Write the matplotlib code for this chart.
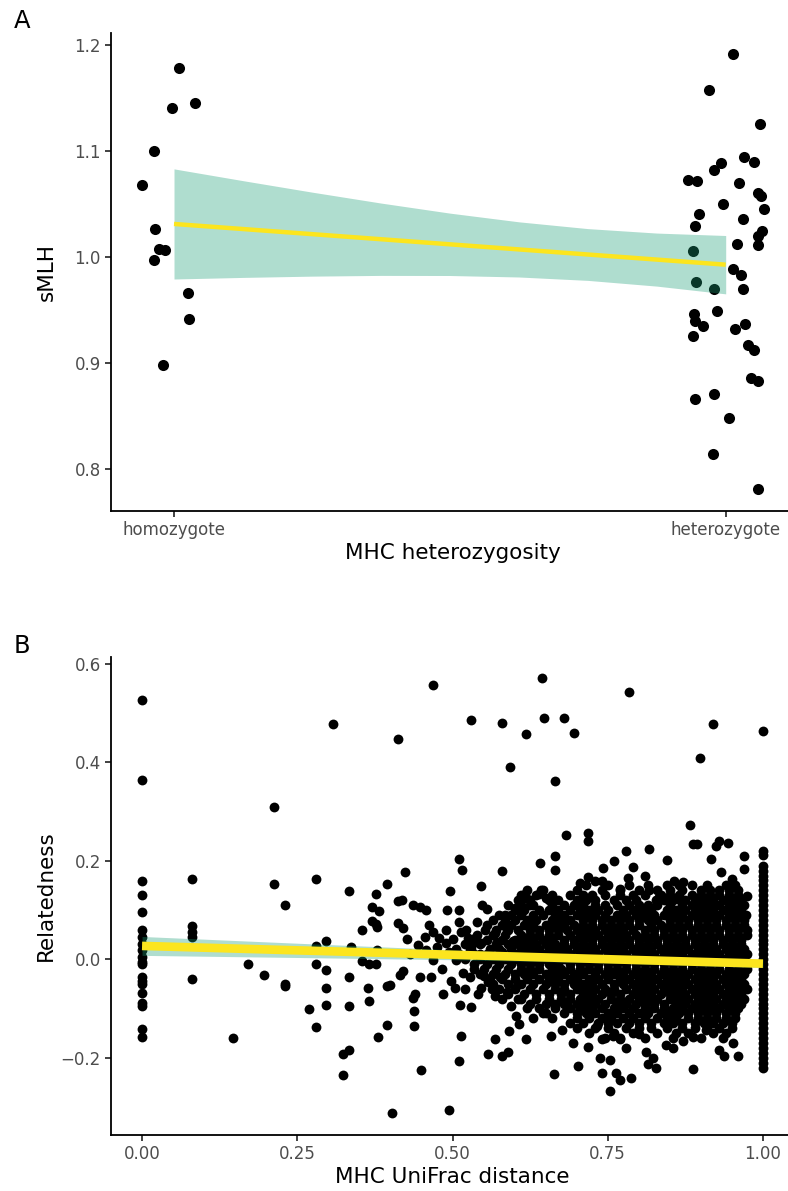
import numpy as np
import matplotlib
matplotlib.use('Agg')
import matplotlib.pyplot as plt

plt.rcParams['font.family'] = ['DejaVu Sans']

# ---------------- Panel A data: sMLH vs MHC heterozygosity (0 = homozygote, 1 = heterozygote, jittered)
homo_x = [0.009, -0.003, 0.0375, -0.036, -0.058, -0.034, -0.028, -0.016, -0.036, 0.026, 0.028, -0.020]
homo_y = [1.1785, 1.1407, 1.1451, 1.1003, 1.0684, 1.027, 1.0078, 1.0064, 0.9977, 0.966, 0.942, 0.8983]
het_x = [1.0127, 0.9703, 1.0622, 1.0337, 1.0513, 0.992, 0.9788, 0.9311, 0.9474, 1.0236,
         1.058, 1.0634, 0.9951, 1.0694, 0.9516, 1.0308, 0.9449, 1.0663, 1.058, 1.0205,
         1.058, 0.9402, 1.0127, 1.0283, 0.9467, 0.9793, 1.0308, 0.9848, 0.9425, 0.9438,
         0.9594, 1.0355, 1.0169, 0.9413, 1.0399, 1.0513, 1.0453, 1.0591, 0.9444, 0.9782,
         1.0054, 0.9775, 1.0591]
het_y = [1.1912, 1.1573, 1.1256, 1.0942, 1.0899, 1.0889, 1.0821, 1.0724, 1.0717, 1.0697,
         1.0606, 1.0579, 1.0498, 1.0458, 1.0404, 1.0364, 1.0293, 1.0242, 1.0195, 1.0128,
         1.0118, 1.0054, 0.9892, 0.9831, 0.9764, 0.9704, 0.9697, 0.9495, 0.9461, 0.9397,
         0.9354, 0.9367, 0.9320, 0.9260, 0.9172, 0.9125, 0.8862, 0.8828, 0.8667, 0.8714,
         0.8485, 0.8141, 0.7818]
a_tick_labels = ['homozygote', 'heterozygote']
a_fit = [1.0313, 0.9929]
a_band_x = [0, 0.125, 0.25, 0.375, 0.5, 0.625, 0.75, 0.875, 1.0]
a_band_hw = [0.0519, 0.0456, 0.0396, 0.0341, 0.0294, 0.0260, 0.0244, 0.0250, 0.0275]

# ---------------- Panel B data: Relatedness vs MHC UniFrac distance
col0_y = [0.526, 0.364, 0.159, 0.130, 0.096, 0.060, 0.046, 0.031, 0.018, 0.005,
          -0.005, -0.009, -0.036, -0.044, -0.051, -0.069, -0.089, -0.095, -0.141, -0.158]
col008_y = [0.163, 0.0675, 0.056, 0.046, -0.041]
col1_y = [0.219, 0.211, 0.19, 0.18, 0.17, 0.16, 0.15, 0.14, 0.13, 0.12, 0.11, 0.10, 0.09, 0.08,
          0.07, 0.06, 0.05, 0.04, 0.03, 0.02, 0.01, 0.0, -0.01, -0.02, -0.03, -0.04, -0.05,
          -0.06, -0.07, -0.08, -0.09, -0.10, -0.11, -0.12, -0.13, -0.14, -0.15, -0.16, -0.17,
          -0.18, -0.19, -0.20, -0.21, -0.22]

out_x = [0.469, 0.644, 0.784, 0.529, 0.580, 0.647, 0.680, 0.695, 0.619, 0.920, 1.0, 0.592,
         0.665, 0.898, 0.307, 0.413, 0.212, 0.403, 0.494]
out_y = [0.556, 0.571, 0.543, 0.486, 0.480, 0.489, 0.490, 0.460, 0.457, 0.478, 0.464, 0.390,
         0.361, 0.409, 0.478, 0.448, 0.309, -0.313, -0.307]

left_x = [0.147, 0.171, 0.197, 0.212, 0.231, 0.231, 0.231, 0.269, 0.280, 0.280, 0.280, 0.280,
          0.296, 0.296, 0.296, 0.296, 0.324, 0.324, 0.334, 0.334, 0.334, 0.334, 0.336, 0.355,
          0.355, 0.364, 0.366, 0.370, 0.370, 0.376, 0.376, 0.378, 0.366, 0.377, 0.378, 0.381,
          0.380, 0.395, 0.395, 0.395, 0.400, 0.413, 0.412, 0.415]
left_y = [-0.160, -0.009, -0.032, 0.152, 0.111, -0.050, -0.055, -0.101, 0.163, 0.027, -0.009, -0.137,
          0.037, -0.021, -0.059, -0.093, -0.193, -0.236, 0.139, -0.036, -0.096, -0.184, 0.024, 0.060,
          -0.004, -0.059, -0.084, 0.077, 0.106, 0.132, 0.072, 0.066, -0.009, -0.009, 0.019, 0.098,
          -0.157, 0.152, -0.134, -0.055, -0.052, 0.118, 0.073, -0.033]

upper_x = [0.883, 0.682, 0.719, 0.719, 0.888, 0.893, 0.930, 0.944, 0.925, 0.779, 0.816, 0.969,
           0.665, 0.511, 0.641, 0.760, 0.845, 0.917, 0.742, 0.791, 0.515, 0.580, 0.665, 0.969,
           0.424, 0.932, 0.810, 0.718, 0.729, 0.740, 0.782, 0.856, 0.872, 0.950, 0.546, 0.496,
           0.705, 0.770, 0.816, 0.975, 0.616, 0.618, 0.642, 0.640, 0.418, 0.547, 0.556, 0.437,
           0.448, 0.458, 0.491, 0.511, 0.833, 0.828, 0.863]
upper_y = [0.272, 0.253, 0.257, 0.240, 0.234, 0.234, 0.240, 0.236, 0.230, 0.219, 0.223, 0.210,
           0.209, 0.204, 0.196, 0.200, 0.201, 0.204, 0.186, 0.188, 0.181, 0.180, 0.181, 0.183,
           0.177, 0.177, 0.168, 0.167, 0.159, 0.159, 0.165, 0.159, 0.157, 0.162, 0.148, 0.139,
           0.154, 0.142, 0.140, 0.129, 0.132, 0.125, 0.140, 0.133, 0.121, 0.110, 0.102, 0.110,
           0.106, 0.099, 0.099, 0.100, 0.127, 0.121, 0.123]

mid_x = [0.420, 0.426, 0.469, 0.479, 0.490, 0.501, 0.514, 0.525, 0.536, 0.546, 0.568, 0.587, 0.597,
         0.431, 0.445, 0.458, 0.469, 0.495, 0.506, 0.528, 0.544, 0.560, 0.579, 0.592,
         0.420, 0.439, 0.447, 0.466, 0.485, 0.504, 0.512, 0.517, 0.528, 0.530, 0.541, 0.546,
         0.557, 0.568, 0.576, 0.587, 0.600,
         0.436, 0.438, 0.438, 0.514, 0.510, 0.557, 0.568, 0.579, 0.589, 0.591, 0.603, 0.607,
         0.618, 0.449,
         0.455, 0.462, 0.475, 0.483, 0.490, 0.497, 0.505, 0.510, 0.520, 0.522, 0.532, 0.535,
         0.540, 0.550, 0.552, 0.563, 0.565, 0.572, 0.580, 0.585, 0.595, 0.600, 0.605, 0.620,
         0.625, 0.630, 0.645, 0.650]
mid_y = [0.064, 0.041, 0.056, 0.044, 0.033, 0.041, 0.056, 0.044, 0.044, 0.033, 0.054, 0.060, 0.037,
         0.010, 0.029, 0.018, -0.001, 0.014, -0.001, 0.018, 0.010, 0.002, 0.014, 0.002,
         -0.024, -0.070, -0.036, -0.036, -0.070, -0.059, -0.093, -0.028, -0.036, -0.097, -0.070, -0.059,
         -0.047, -0.074, -0.036, -0.067, -0.059,
         -0.078, -0.105, -0.135, -0.155, -0.206, -0.193, -0.162, -0.197, -0.189, -0.145, -0.116, -0.131,
         -0.162, -0.226,
         0.045, 0.070, 0.025, -0.020, 0.060, -0.045, 0.020, 0.075, -0.060, 0.060, 0.030, -0.020,
         0.075, -0.035, 0.060, -0.060, 0.080, 0.035, -0.080, 0.090, -0.095, 0.105, -0.080, -0.100,
         0.110, -0.120, -0.110, 0.125]

low_x = [0.659, 0.677, 0.694, 0.719, 0.702, 0.664, 0.737, 0.741, 0.753, 0.753, 0.764, 0.769,
         0.788, 0.769, 0.780, 0.801, 0.812, 0.815, 0.823, 0.828, 0.844, 0.855, 0.871, 0.887,
         0.887, 0.909, 0.930, 0.938, 0.951, 0.960, 0.740, 0.758, 0.732]
low_y = [-0.155, -0.143, -0.170, -0.179, -0.217, -0.233, -0.200, -0.231, -0.204, -0.267, -0.231, -0.246,
         -0.242, -0.162, -0.181, -0.151, -0.189, -0.212, -0.200, -0.220, -0.174, -0.181, -0.166, -0.158,
         -0.223, -0.143, -0.185, -0.197, -0.170, -0.197, -0.162, -0.155, -0.135]

# dense core, read row by row (relatedness level, distances along that row)
core_rows = [
    (0.15, [0.715, 0.75, 0.785, 0.815, 0.845, 0.865, 0.885, 0.91, 0.94, 0.955]),
    (0.14, [0.62, 0.645, 0.70, 0.74, 0.77, 0.80, 0.83, 0.85, 0.87, 0.90, 0.915, 0.93, 0.945, 0.96]),
    (0.13, [0.61, 0.635, 0.66, 0.69, 0.71, 0.725, 0.745, 0.77, 0.79, 0.81, 0.835, 0.85, 0.865,
            0.885, 0.90, 0.915, 0.93, 0.945, 0.96]),
    (0.12, [0.605, 0.625, 0.655, 0.67, 0.70, 0.715, 0.73, 0.76, 0.78, 0.795, 0.84, 0.855, 0.875,
            0.89, 0.905, 0.92, 0.935, 0.95, 0.965]),
    (0.11, [0.59, 0.61, 0.63, 0.66, 0.68, 0.695, 0.71, 0.73, 0.745, 0.765, 0.785, 0.80, 0.815,
            0.83, 0.85, 0.87, 0.885, 0.90, 0.915, 0.93, 0.945, 0.96, 0.97]),
    (0.10, [0.60, 0.615, 0.64, 0.655, 0.67, 0.69, 0.705, 0.72, 0.735, 0.75, 0.775, 0.79, 0.805,
            0.82, 0.845, 0.86, 0.875, 0.89, 0.905, 0.92, 0.935, 0.95, 0.965]),
    (0.09, [0.575, 0.595, 0.61, 0.63, 0.645, 0.665, 0.68, 0.70, 0.715, 0.73, 0.745, 0.765, 0.78,
            0.795, 0.81, 0.825, 0.84, 0.855, 0.87, 0.885, 0.90, 0.915, 0.93, 0.945, 0.96, 0.972]),
    (0.08, [0.585, 0.60, 0.62, 0.635, 0.66, 0.675, 0.69, 0.71, 0.725, 0.74, 0.755, 0.77, 0.785,
            0.80, 0.815, 0.83, 0.85, 0.865, 0.88, 0.895, 0.91, 0.925, 0.94, 0.955, 0.97]),
    (0.07, [0.555, 0.58, 0.595, 0.615, 0.63, 0.65, 0.665, 0.68, 0.695, 0.71, 0.725, 0.74, 0.755,
            0.77, 0.785, 0.80, 0.82, 0.835, 0.85, 0.865, 0.88, 0.895, 0.91, 0.925, 0.94, 0.955, 0.97]),
    (0.06, [0.57, 0.59, 0.605, 0.625, 0.64, 0.655, 0.67, 0.685, 0.70, 0.715, 0.73, 0.745, 0.76,
            0.775, 0.79, 0.81, 0.825, 0.84, 0.855, 0.87, 0.885, 0.90, 0.915, 0.93, 0.945, 0.96, 0.975]),
    (0.05, [0.54, 0.565, 0.585, 0.61, 0.625, 0.64, 0.655, 0.67, 0.69, 0.705, 0.72, 0.735, 0.75,
            0.765, 0.78, 0.795, 0.81, 0.825, 0.84, 0.855, 0.87, 0.885, 0.90, 0.915, 0.93, 0.945,
            0.96, 0.975]),
    (0.04, [0.555, 0.58, 0.60, 0.615, 0.63, 0.645, 0.66, 0.68, 0.695, 0.71, 0.725, 0.74, 0.755,
            0.77, 0.785, 0.80, 0.815, 0.83, 0.845, 0.86, 0.875, 0.89, 0.905, 0.92, 0.935, 0.95, 0.965]),
    (0.03, [0.52, 0.545, 0.57, 0.59, 0.605, 0.62, 0.635, 0.65, 0.665, 0.68, 0.695, 0.71, 0.725,
            0.74, 0.755, 0.77, 0.785, 0.80, 0.815, 0.83, 0.845, 0.86, 0.875, 0.89, 0.905, 0.92,
            0.935, 0.95, 0.965]),
    (0.02, [0.53, 0.56, 0.575, 0.595, 0.61, 0.625, 0.64, 0.655, 0.67, 0.685, 0.70, 0.715, 0.73,
            0.745, 0.76, 0.775, 0.79, 0.805, 0.82, 0.835, 0.85, 0.865, 0.88, 0.895, 0.91, 0.925,
            0.94, 0.955, 0.97]),
    (0.01, [0.51, 0.535, 0.555, 0.58, 0.60, 0.615, 0.63, 0.645, 0.66, 0.675, 0.69, 0.705, 0.72,
            0.735, 0.75, 0.765, 0.78, 0.795, 0.81, 0.825, 0.84, 0.855, 0.87, 0.885, 0.90, 0.915,
            0.93, 0.945, 0.96, 0.975]),
    (0.00, [0.52, 0.545, 0.565, 0.585, 0.60, 0.62, 0.635, 0.65, 0.665, 0.68, 0.695, 0.71, 0.725,
            0.74, 0.755, 0.77, 0.785, 0.80, 0.815, 0.83, 0.845, 0.86, 0.875, 0.89, 0.905, 0.92,
            0.935, 0.95, 0.965]),
    (-0.01, [0.535, 0.555, 0.575, 0.595, 0.61, 0.625, 0.64, 0.655, 0.67, 0.69, 0.705, 0.72, 0.735,
             0.75, 0.765, 0.78, 0.795, 0.81, 0.825, 0.84, 0.855, 0.87, 0.885, 0.90, 0.915, 0.93,
             0.945, 0.96, 0.975]),
    (-0.02, [0.55, 0.57, 0.59, 0.61, 0.625, 0.64, 0.66, 0.675, 0.69, 0.705, 0.72, 0.735, 0.75,
             0.765, 0.78, 0.795, 0.81, 0.825, 0.84, 0.855, 0.87, 0.885, 0.90, 0.915, 0.93, 0.945,
             0.96, 0.975]),
    (-0.03, [0.545, 0.565, 0.585, 0.60, 0.615, 0.63, 0.65, 0.665, 0.68, 0.695, 0.71, 0.73, 0.745,
             0.76, 0.775, 0.79, 0.805, 0.82, 0.835, 0.85, 0.865, 0.88, 0.895, 0.91, 0.925, 0.94,
             0.955, 0.97]),
    (-0.04, [0.56, 0.58, 0.60, 0.62, 0.64, 0.655, 0.67, 0.69, 0.70, 0.72, 0.735, 0.75, 0.77, 0.785,
             0.80, 0.815, 0.83, 0.845, 0.86, 0.875, 0.89, 0.905, 0.92, 0.935, 0.95, 0.965]),
    (-0.05, [0.565, 0.59, 0.61, 0.63, 0.65, 0.665, 0.68, 0.695, 0.71, 0.725, 0.74, 0.76, 0.775,
             0.79, 0.805, 0.82, 0.835, 0.85, 0.865, 0.88, 0.895, 0.91, 0.925, 0.94, 0.955, 0.97]),
    (-0.06, [0.575, 0.60, 0.625, 0.645, 0.665, 0.68, 0.70, 0.715, 0.73, 0.745, 0.76, 0.78, 0.795,
             0.81, 0.825, 0.84, 0.855, 0.87, 0.885, 0.90, 0.915, 0.93, 0.945, 0.96, 0.975]),
    (-0.07, [0.59, 0.615, 0.635, 0.655, 0.675, 0.69, 0.71, 0.725, 0.74, 0.755, 0.77, 0.79, 0.805,
             0.82, 0.835, 0.85, 0.86, 0.875, 0.89, 0.905, 0.92, 0.935, 0.95, 0.965]),
    (-0.08, [0.61, 0.635, 0.655, 0.675, 0.69, 0.705, 0.72, 0.735, 0.755, 0.77, 0.785, 0.80, 0.815,
             0.83, 0.85, 0.865, 0.88, 0.895, 0.91, 0.925, 0.94, 0.955, 0.97]),
    (-0.09, [0.625, 0.65, 0.665, 0.68, 0.70, 0.715, 0.73, 0.745, 0.765, 0.78, 0.795, 0.81, 0.825,
             0.84, 0.86, 0.875, 0.89, 0.905, 0.92, 0.935, 0.95, 0.965]),
    (-0.10, [0.64, 0.665, 0.69, 0.71, 0.725, 0.74, 0.76, 0.775, 0.79, 0.81, 0.825, 0.84, 0.855,
             0.87, 0.885, 0.90, 0.915, 0.93, 0.945, 0.96]),
    (-0.11, [0.65, 0.68, 0.70, 0.715, 0.73, 0.75, 0.765, 0.785, 0.80, 0.815, 0.835, 0.85, 0.865,
             0.88, 0.895, 0.91, 0.925, 0.94, 0.955]),
    (-0.12, [0.66, 0.70, 0.72, 0.74, 0.755, 0.775, 0.79, 0.81, 0.83, 0.845, 0.86, 0.88, 0.895,
             0.91, 0.925, 0.94, 0.955]),
    (-0.13, [0.69, 0.71, 0.735, 0.75, 0.765, 0.785, 0.80, 0.82, 0.84, 0.855, 0.87, 0.89, 0.905,
             0.92, 0.935, 0.95]),
    (-0.14, [0.70, 0.73, 0.75, 0.78, 0.80, 0.82, 0.845, 0.87, 0.89, 0.91, 0.93, 0.95]),
    (-0.15, [0.72, 0.76, 0.79, 0.83, 0.86, 0.88, 0.92, 0.94]),
    (-0.16, [0.745, 0.77, 0.81, 0.855, 0.90, 0.935]),
]
b_fit = [0.027, -0.009]
b_band_x = [0, 0.25, 0.5, 0.75, 1.0]
b_band_hw = [0.0192, 0.0145, 0.010, 0.0075, 0.008]
b_ticks = [0, 0.25, 0.5, 0.75, 1.0]
b_tick_labels = ['0.00', '0.25', '0.50', '0.75', '1.00']

# ---------------- style
W, H = 788, 1191
yellow = '#FCE51E'
band_col = '#1B9E77'
tick_col = '#4D4D4D'


def style_axis(ax):
    for s in ['top', 'right']:
        ax.spines[s].set_visible(False)
    for s in ['left', 'bottom']:
        ax.spines[s].set_linewidth(1.3)
        ax.spines[s].set_color('black')
    ax.tick_params(direction='out', length=4.3, width=1.3, color='#333333',
                   labelsize=12, labelcolor=tick_col, pad=3)


fig = plt.figure(figsize=(W / 100, H / 100), dpi=100)
axA = fig.add_axes([111 / W, 1 - 510.7 / H, 683 / W, 477.5 / H])
axB = fig.add_axes([111 / W, 1 - 1134.5 / H, 683 / W, 478 / H])

# Panel A
axA.scatter(homo_x + het_x, homo_y + het_y, s=64, color='black', linewidths=0, zorder=2)
bx = np.array(a_band_x)
line_a = np.interp(bx, [0, 1], a_fit)
axA.fill_between(bx, line_a - np.array(a_band_hw), line_a + np.array(a_band_hw),
                 color=band_col, alpha=0.35, linewidth=0, zorder=3)
axA.plot(bx, line_a, color=yellow, lw=3.2, zorder=4, solid_capstyle='butt')
axA.set_xlim(-0.1142, 1.1238)
axA.set_ylim(0.761, 1.2111)
axA.set_yticks([0.8, 0.9, 1.0, 1.1, 1.2])
axA.set_xticks([0, 1])
axA.set_xticklabels(a_tick_labels)
style_axis(axA)
axA.set_ylabel('sMLH', fontsize=15.5)
axA.set_xlabel('MHC heterozygosity', fontsize=15.5)
axA.yaxis.set_label_coords(-0.08, 0.5)
axA.xaxis.set_label_coords(0.5, -0.068)

# Panel B
core_x = [x for yv, xs in core_rows for x in xs]
core_y = [yv for yv, xs in core_rows for x in xs]
bxs = [0.0] * len(col0_y) + [0.081] * len(col008_y) + [1.0] * len(col1_y) \
    + out_x + left_x + upper_x + mid_x + low_x + core_x
bys = col0_y + col008_y + col1_y + out_y + left_y + upper_y + mid_y + low_y + core_y
axB.scatter(bxs, bys, s=50, color='black', linewidths=0, zorder=2)
cx = np.array(b_band_x)
line_b = np.interp(cx, [0, 1], b_fit)
axB.fill_between(cx, line_b - np.array(b_band_hw), line_b + np.array(b_band_hw),
                 color=band_col, alpha=0.35, linewidth=0, zorder=3)
axB.plot(cx, line_b, color=yellow, lw=6.2, zorder=4, solid_capstyle='butt')
axB.set_xlim(-0.05, 1.05)
axB.set_ylim(-0.356, 0.6148)
axB.set_yticks([-0.2, 0.0, 0.2, 0.4, 0.6])
axB.set_yticklabels(['\u22120.2', '0.0', '0.2', '0.4', '0.6'])
axB.set_xticks(b_ticks)
axB.set_xticklabels(b_tick_labels)
style_axis(axB)
axB.set_ylabel('Relatedness', fontsize=15.5)
axB.set_xlabel('MHC UniFrac distance', fontsize=15.5)
axB.yaxis.set_label_coords(-0.08, 0.5)
axB.xaxis.set_label_coords(0.5, -0.068)

fig.text(14 / W, 1 - 9 / H, 'A', fontsize=17.5, va='top', ha='left')
fig.text(14 / W, 1 - 634 / H, 'B', fontsize=17.5, va='top', ha='left')

fig.savefig('out.png', dpi=100)
